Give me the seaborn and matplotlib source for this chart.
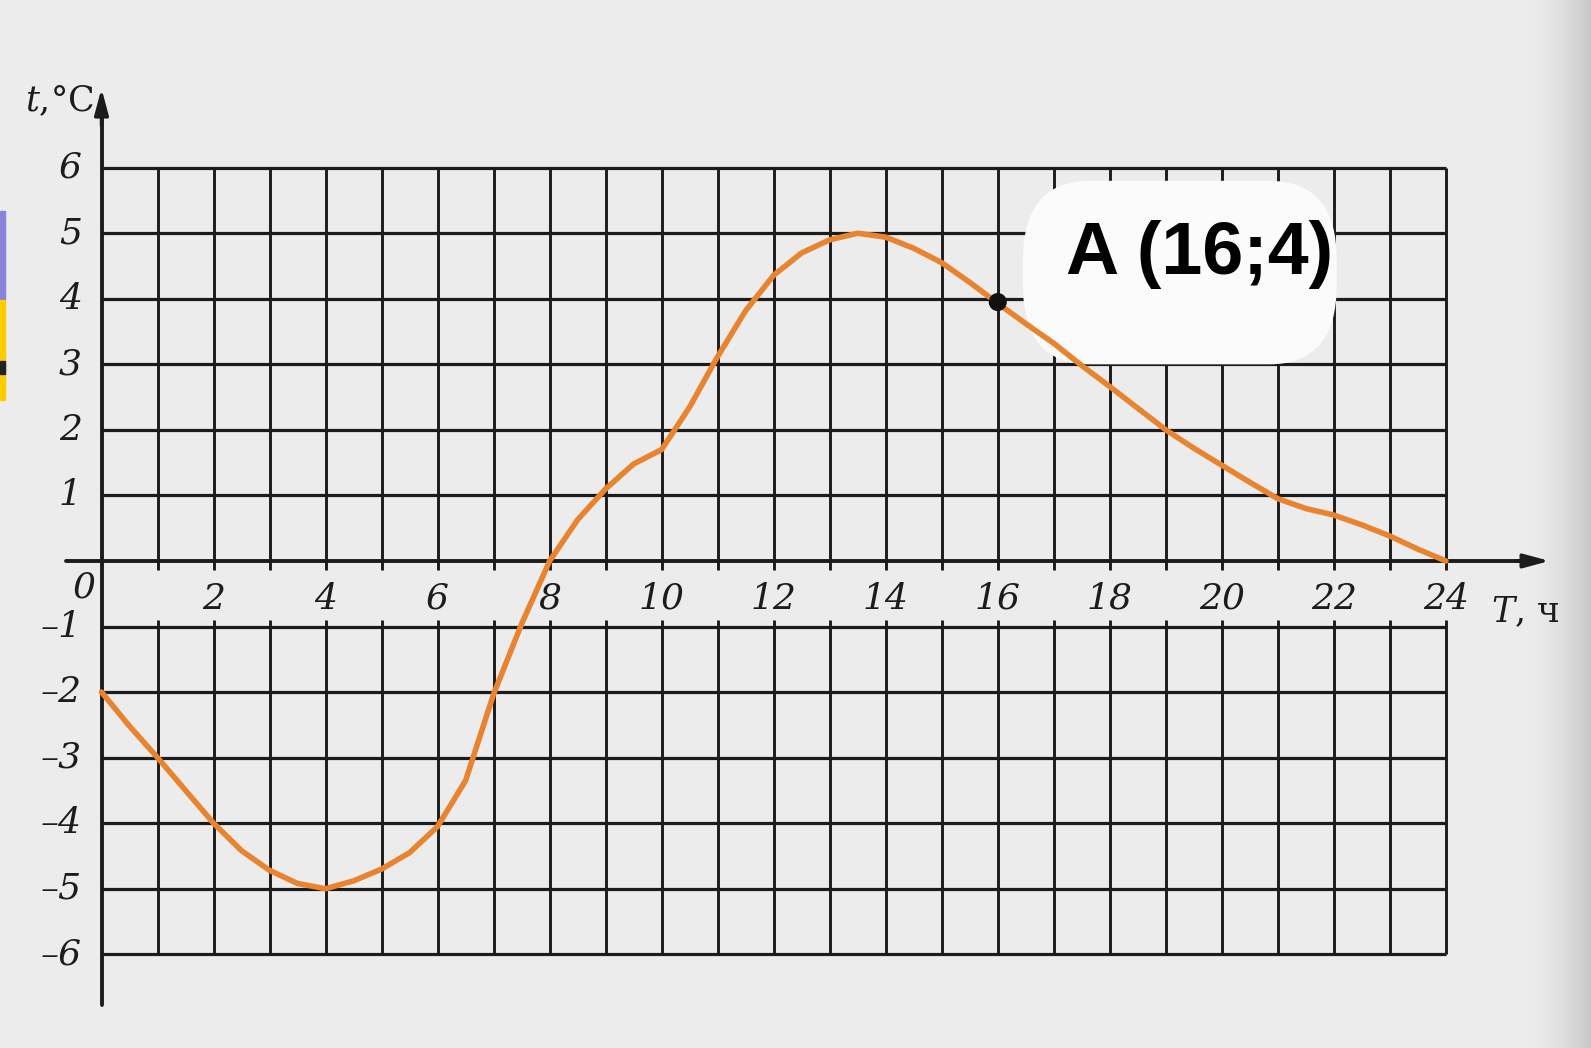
import numpy as np
import seaborn as sns
import matplotlib.pyplot as plt
import pandas as pd
from matplotlib.patches import FancyBboxPatch, Rectangle
from matplotlib.colors import LinearSegmentedColormap

# Temperature over the day, every half hour
hours = [0, 0.5, 1, 1.5, 2, 2.5, 3, 3.5, 4, 4.5, 5, 5.5, 6, 6.5, 7, 7.5,
         8, 8.5, 9, 9.5, 10, 10.5, 11, 11.5, 12, 12.5, 13, 13.5, 14, 14.5,
         15, 15.5, 16, 16.5, 17, 17.5, 18, 18.5, 19, 19.5, 20, 20.5, 21,
         21.5, 22, 22.5, 23, 23.5, 24]
temps = [-2.0, -2.52, -3.0, -3.5, -4.0, -4.42, -4.72, -4.92, -5.0, -4.88,
         -4.7, -4.45, -4.05, -3.35, -2.03, -0.96, 0.0, 0.63, 1.1, 1.48,
         1.7, 2.35, 3.12, 3.82, 4.36, 4.7, 4.9, 5.0, 4.94, 4.77, 4.55,
         4.25, 3.93, 3.62, 3.32, 2.98, 2.66, 2.33, 2.0, 1.72, 1.46, 1.2,
         0.95, 0.8, 0.7, 0.55, 0.38, 0.18, 0.0]

point_x = [16]
point_y = [3.95]
point_label = "A (16;4)"

x_ticks = list(range(2, 25, 2))
y_ticks = [6, 5, 4, 3, 2, 1, -1, -2, -3, -4, -5, -6]

df = pd.DataFrame({"T": hours, "t": temps})

sns.set_theme(style="white")
plt.rcParams["mathtext.fontset"] = "dejavuserif"
plt.rcParams["font.family"] = ["DejaVu Serif"]

bg = "#ececec"
ink = "#1c1c1c"
fig = plt.figure(figsize=(15.91, 10.48), dpi=100, facecolor=bg)
ax = fig.add_axes([0, 0, 1, 1])
ax.set_facecolor(bg)
ax.set_xlim(-1.812, 26.59)
ax.set_ylim(-7.43, 8.558)
ax.axis("off")

# shadow of the book spine at the right edge
spine_cmap = LinearSegmentedColormap.from_list("spine", [bg, "#c8c8c8"])
grad = np.linspace(0, 1, 80)[None, :] ** 1.6
ax.imshow(grad, extent=(25.45, 26.59, -7.43, 8.558), aspect="auto",
          cmap=spine_cmap, zorder=0, interpolation="bilinear")

# grid (gap under the hour labels, as in the book)
gx = np.arange(1, 25)
ax.vlines(gx, 0, 6, color=ink, lw=2.1, zorder=1)
ax.vlines(gx, -0.14, 0, color=ink, lw=2.1, zorder=1)
ax.vlines(gx, -6, -0.9, color=ink, lw=2.1, zorder=1)
gy = [v for v in range(-6, 7) if v != 0]
ax.hlines(gy, 0, 24, color=ink, lw=2.3, zorder=1)

# axes with arrows
ax.plot([-0.63, 25.5], [0, 0], color=ink, lw=2.8, zorder=2)
ax.plot([0, 0], [-6.77, 6.9], color=ink, lw=2.8, zorder=2)
ax.annotate("", xy=(25.9, 0), xytext=(25.2, 0),
            arrowprops=dict(arrowstyle="-|>,head_length=1.3,head_width=0.35",
                            color=ink, lw=2.5), zorder=3)
ax.annotate("", xy=(0, 7.25), xytext=(0, 6.6),
            arrowprops=dict(arrowstyle="-|>,head_length=1.3,head_width=0.35",
                            color=ink, lw=2.5), zorder=3)

# tick labels
for v in x_ticks:
    ax.text(v, -0.58, str(v), ha="center", va="center", fontsize=26,
            style="italic", color=ink, zorder=3)
ax.text(-0.31, -0.4, "0", ha="center", va="center", fontsize=26,
        style="italic", color=ink, zorder=3)
for v in y_ticks:
    lab = str(v).replace("-", "\u2013")
    ax.text(-0.35, v, lab, ha="right", va="center", fontsize=26,
            style="italic", color=ink, zorder=3)

ax.text(-0.14, 7.02, r"$t$,°C", ha="right", va="center", fontsize=25,
        color=ink, zorder=3)
ax.text(24.8, -0.78, r"$T$, ч", ha="left", va="center", fontsize=25,
        color=ink, zorder=3)

# white callout
bubble = FancyBboxPatch((16.45, 3.0), 5.6, 2.8,
                        boxstyle="round,pad=0,rounding_size=1.2",
                        facecolor="#fbfbfb", edgecolor="none", zorder=4)
ax.add_patch(bubble)

sns.lineplot(data=df, x="T", y="t", ax=ax, color="#e8842f", lw=4.0,
             zorder=5, legend=False, solid_joinstyle="round")
sns.scatterplot(x=point_x, y=point_y, ax=ax, color="#111111", s=170,
                edgecolor="none", zorder=6, legend=False)
ax.text(19.6, 4.67, point_label, ha="center", va="center", fontsize=53,
        fontweight="bold", family=["Liberation Sans", "DejaVu Sans"],
        color="#000000", zorder=7)

ax.set_xlabel("")
ax.set_ylabel("")
ax.set_xlim(-1.812, 26.59)
ax.set_ylim(-7.43, 8.558)

# coloured slide markers on the left edge
fig.patches.append(Rectangle((0, (1048 - 300) / 1048), 5 / 1591, 89 / 1048,
                             transform=fig.transFigure, color="#8884dc"))
fig.patches.append(Rectangle((0, (1048 - 400) / 1048), 5 / 1591, 100 / 1048,
                             transform=fig.transFigure, color="#ffcc00"))
fig.patches.append(Rectangle((0, (1048 - 374) / 1048), 5 / 1591, 13 / 1048,
                             transform=fig.transFigure, color="#222222"))

fig.savefig("out.png", dpi=100, facecolor=bg)
